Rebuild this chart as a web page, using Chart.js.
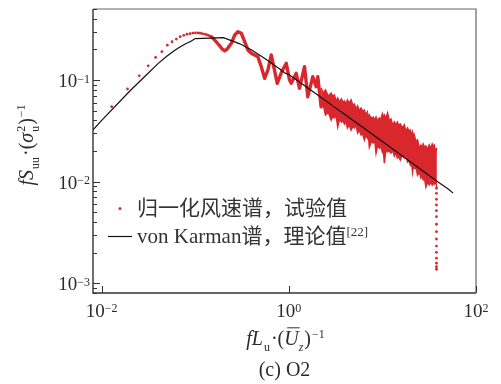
<!DOCTYPE html>
<html>
<head>
<meta charset="utf-8">
<script src="https://cdn.jsdelivr.net/npm/chart.js@4.4.0/dist/chart.umd.min.js"></script>
<style>
  html, body { margin: 0; padding: 0; background: #fff; }
</style>
</head>
<body>
<canvas id="spectrumChart" width="501" height="384"></canvas>
<script>
const SERIF = '"Liberation Serif", "Times New Roman", "Noto Sans CJK SC", serif';
const RED = '#d9272e';
const INK = '#2b2b2b';

// axis ranges and tick labels
const xRange = [0.00808, 100];
const yRange = [0.0008, 0.5];
const xTicks = [0.01, 1, 100];
const xTickPow = ['\u22122', '0', '2'];
const yTicks = [0.001, 0.01, 0.1];
const yTickPow = ['\u22123', '\u22122', '\u22121'];

// 试验值: sparse low-frequency points
const lowX = [0.0128, 0.0189, 0.0252, 0.0314, 0.0377, 0.0440, 0.0503, 0.0565, 0.0628, 0.0690, 0.0754,
              0.0817, 0.0880, 0.0942, 0.1005, 0.1070, 0.1130, 0.1190, 0.1260, 0.1320, 0.1380, 0.1445];
const lowY = [0.0546, 0.0815, 0.110, 0.138, 0.167, 0.190, 0.220, 0.238, 0.253, 0.267, 0.275,
              0.282, 0.286, 0.290, 0.291, 0.291, 0.289, 0.286, 0.283, 0.279, 0.275, 0.270];

// 试验值: oscillating part (points merge into a thick curve)
const waveX = [0.1488, 0.1614, 0.1794, 0.1950, 0.2063, 0.2183, 0.2431, 0.2637, 0.2860, 0.3108, 0.3371,
               0.3655, 0.3972, 0.4309, 0.4672, 0.5078, 0.5508, 0.5972, 0.6492, 0.6955, 0.7521, 0.8360,
               0.9382, 1.0174, 1.0607, 1.1993, 1.3006, 1.4706, 1.5946, 1.8030, 1.9598, 2.0383, 2.2154];
const waveY = [0.2668, 0.2475, 0.2211, 0.2005, 0.1942, 0.2005, 0.2297, 0.2773, 0.2988, 0.2881, 0.2382,
               0.1974, 0.1832, 0.1763, 0.1696, 0.1351, 0.1039, 0.1254, 0.1763, 0.1312, 0.0928, 0.1199,
               0.1460, 0.1000, 0.0928, 0.1164, 0.0829, 0.1351, 0.0685, 0.1078, 0.0859, 0.1078, 0.0546];

// 试验值: dense high-frequency part, upper / lower edge of the red band
const bandX = [2.2154, 2.336, 2.4622, 2.640, 2.8314, 2.948, 3.0702, 3.197, 3.3299, 3.484, 3.6459, 3.783,
               3.9252, 4.073, 4.2255, 4.422, 4.6276, 4.818, 5.0164, 5.223, 5.4387, 5.671, 5.9130, 6.158,
               6.4121, 6.653, 6.9024, 7.074, 7.2505, 7.615, 7.9983, 8.268, 8.5466, 8.900, 9.2683, 9.615,
               9.9747, 10.223, 10.478, 10.910, 11.359, 11.846, 12.353, 12.864, 13.396, 13.895, 14.413,
               14.952, 15.512, 16.297, 17.122, 17.830, 18.568, 19.190, 19.831, 20.402, 20.989, 21.431,
               21.882, 22.785, 23.726, 24.739, 25.794, 26.532, 27.290, 28.208, 29.157, 30.365, 31.623,
               32.810, 34.041, 34.887, 35.754, 36.957, 38.2];
const bandHi = [0.0834, 0.0741, 0.0797, 0.0693, 0.0745, 0.0691, 0.0712, 0.0618, 0.0665, 0.0605, 0.0650,
                0.0602, 0.0621, 0.0578, 0.0636, 0.0591, 0.0636, 0.0563, 0.0580, 0.0516, 0.0555, 0.0493,
                0.0530, 0.0492, 0.0507, 0.0450, 0.0484, 0.0420, 0.0452, 0.0419, 0.0432, 0.0402, 0.0432,
                0.0393, 0.0423, 0.0410, 0.0463, 0.0420, 0.0452, 0.0420, 0.0473, 0.0401, 0.0413, 0.0359,
                0.0386, 0.0359, 0.0386, 0.0358, 0.0369, 0.0336, 0.0361, 0.0313, 0.0337, 0.0312, 0.0322,
                0.0286, 0.0308, 0.0268, 0.0288, 0.0249, 0.0257, 0.0213, 0.0229, 0.0213, 0.0234, 0.0217,
                0.0224, 0.0208, 0.0229, 0.0213, 0.0234, 0.0222, 0.0229, 0.0199, 0.0214];
const bandLo = [0.0530, 0.0567, 0.0452, 0.0484, 0.0404, 0.0436, 0.0423, 0.0453, 0.0345, 0.0413, 0.0386,
                0.0398, 0.0369, 0.0395, 0.0337, 0.0361, 0.0322, 0.0347, 0.0337, 0.0361, 0.0301, 0.0322,
                0.0288, 0.0297, 0.0257, 0.0288, 0.0269, 0.0288, 0.0219, 0.0247, 0.0240, 0.0257, 0.0191,
                0.0229, 0.0214, 0.0220, 0.0196, 0.0210, 0.0152, 0.0210, 0.0196, 0.0202, 0.0191, 0.0204,
                0.0179, 0.0192, 0.0171, 0.0176, 0.0163, 0.0183, 0.0171, 0.0183, 0.0156, 0.0161, 0.0146,
                0.0156, 0.0124, 0.0146, 0.0136, 0.0140, 0.0116, 0.0124, 0.0109, 0.0117, 0.0104, 0.0107,
                0.00885, 0.0099, 0.00926, 0.0099, 0.00926, 0.00975, 0.00947, 0.0101, 0.00865];

// 试验值: last points falling off at the cut-off
const dropX = [37.8, 37.8, 37.8, 37.8, 37.8, 37.8, 37.8, 37.8, 37.8, 37.8, 37.8, 37.8, 37.8, 37.8, 37.8];
const dropY = [0.00859, 0.00767, 0.00669, 0.00588, 0.00517, 0.00451, 0.00380, 0.00321, 0.00272,
               0.00232, 0.00201, 0.00176, 0.00157, 0.00145, 0.00137];

// von Karman谱，理论值
const kmX = [0.008, 0.01, 0.02, 0.03, 0.04, 0.05, 0.06, 0.07, 0.08, 0.09, 0.1, 0.2, 0.3, 0.4, 0.5,
             0.6, 0.7, 0.8, 0.9, 1, 2, 3, 4, 5, 6, 7, 8, 9, 10, 20, 30, 40, 50, 57];
const kmY = [0.032, 0.040, 0.078, 0.112, 0.145, 0.172, 0.195, 0.214, 0.229, 0.241, 0.256, 0.261, 0.227,
             0.197, 0.173, 0.155, 0.140, 0.128, 0.118, 0.113, 0.072, 0.055, 0.0456, 0.0392, 0.0348,
             0.0314, 0.0288, 0.0266, 0.0248, 0.0156, 0.0119, 0.0098, 0.0085, 0.0077];

function pairs(xs, ys) {
    return xs.map((x, i) => ({ x: x, y: ys[i] }));
}

// text with sub/superscripts, laid out left to right
function richLayout(ctx, parts, size, rise, drop) {
    let x = 0;
    const items = parts.map(p => {
        const fs = (p.sub || p.sup) ? (p.fs || Math.round(size * 0.62)) : size;
        const font = (p.it ? 'italic ' : '') + fs + 'px ' + SERIF;
        ctx.font = font;
        const w = ctx.measureText(p.t).width;
        const item = { t: p.t, font: font, x: x + (p.gap || 0), dy: p.sub ? drop : p.sup ? -rise : 0, w: w, bar: p.bar };
        if (!p.stack) x += w + (p.gap || 0);
        return item;
    });
    return { items: items, width: x };
}

function drawRich(ctx, parts, x0, y0, size, rise, drop, align) {
    const lay = richLayout(ctx, parts, size, rise, drop);
    const sx = align === 'center' ? x0 - lay.width / 2 : align === 'right' ? x0 - lay.width : x0;
    lay.items.forEach(it => {
        ctx.font = it.font;
        ctx.fillText(it.t, sx + it.x, y0 + it.dy);
        if (it.bar) {
            ctx.beginPath();
            ctx.lineWidth = 1;
            ctx.moveTo(sx + it.x + 3, y0 - size * 0.86);
            ctx.lineTo(sx + it.x + it.w + 1, y0 - size * 0.86);
            ctx.stroke();
        }
    });
}

const paperAxes = {
    id: 'paperAxes',
    afterDatasetsDraw(chart) {
        const { ctx, chartArea: a, scales } = chart;
        const sx = scales.x, sy = scales.y;
        ctx.save();
        ctx.fillStyle = INK;
        ctx.strokeStyle = INK;
        ctx.textAlign = 'left';
        ctx.textBaseline = 'alphabetic';

        // frame
        ctx.lineWidth = 1.4;
        ctx.strokeStyle = '#333';
        ctx.beginPath();
        ctx.moveTo(a.left, a.top); ctx.lineTo(a.left, a.bottom); ctx.lineTo(a.right, a.bottom);
        ctx.stroke();
        ctx.strokeStyle = '#666';
        ctx.lineWidth = 1.2;
        ctx.beginPath();
        ctx.moveTo(a.left, a.top); ctx.lineTo(a.right, a.top); ctx.lineTo(a.right, a.bottom);
        ctx.stroke();

        // y ticks (inward, with minors)
        ctx.strokeStyle = '#333';
        ctx.lineWidth = 1;
        for (let d = -4; d <= 0; d++) {
            for (let m = 1; m <= 9; m++) {
                const v = m * Math.pow(10, d);
                if (v < yRange[0] * 0.999 || v > yRange[1] * 1.001) continue;
                const py = Math.round(sy.getPixelForValue(v)) + 0.5;
                const len = m === 1 ? 7 : 4;
                ctx.beginPath();
                ctx.moveTo(a.left, py); ctx.lineTo(a.left + len, py);
                ctx.stroke();
            }
        }
        // x ticks
        xTicks.forEach(v => {
            const px = Math.round(sx.getPixelForValue(v)) + 0.5;
            ctx.beginPath();
            ctx.moveTo(px, a.bottom); ctx.lineTo(px, a.bottom - 7);
            ctx.stroke();
        });

        // tick labels
        ctx.fillStyle = INK;
        yTicks.forEach((v, i) => {
            const py = sy.getPixelForValue(v);
            drawRich(ctx, [{ t: '10' }, { t: yTickPow[i], sup: true, fs: 12 }], 90, py + 7, 19, 4.5, 0, 'right');
        });
        xTicks.forEach((v, i) => {
            const px = sx.getPixelForValue(v);
            drawRich(ctx, [{ t: '10' }, { t: xTickPow[i], sup: true, fs: 12 }], px, 317, 19, 5, 0, 'center');
        });

        // x title and caption
        const cx = (a.left + a.right) / 2;
        drawRich(ctx, [
            { t: 'f', it: true }, { t: 'L', it: true }, { t: 'u', sub: true, gap: 1 },
            { t: '\u00b7', gap: 1 }, { t: '(' }, { t: 'U', it: true, bar: true },
            { t: 'z', it: true, sub: true }, { t: ')', gap: 1 }, { t: '\u22121', sup: true, gap: 1 }
        ], cx + 1, 345, 20, 7, 6, 'center');
        drawRich(ctx, [{ t: '(c) O2' }], cx, 376, 20, 0, 0, 'center');

        // y title (rotated)
        ctx.save();
        ctx.translate(33, 145);
        ctx.rotate(-Math.PI / 2);
        drawRich(ctx, [
            { t: 'f', it: true }, { t: 'S', it: true }, { t: 'uu', sub: true, gap: 1 },
            { t: '\u00b7', gap: 1 }, { t: '(' }, { t: '\u03c3', it: true },
            { t: '2', sup: true, stack: true, gap: 1 }, { t: 'u', sub: true, gap: 1 },
            { t: ')', gap: 1 }, { t: '\u22121', sup: true, gap: 1 }
        ], 0, 0, 20, 8, 6, 'center');
        ctx.restore();

        // legend
        ctx.fillStyle = RED;
        ctx.beginPath();
        ctx.arc(120, 208.5, 1.5, 0, Math.PI * 2);
        ctx.fill();
        ctx.strokeStyle = '#111';
        ctx.lineWidth = 1.2;
        ctx.beginPath();
        ctx.moveTo(108, 236.5); ctx.lineTo(132, 236.5);
        ctx.stroke();
        ctx.fillStyle = '#333';
        drawRich(ctx, [{ t: '归一化风速谱，试验值' }], 137, 215, 21, 0, 0, 'left');
        drawRich(ctx, [{ t: 'von Karman谱，理论值' }, { t: '[22]', sup: true, fs: 13 }], 137, 243, 21, 7, 0, 'left');

        ctx.restore();
    }
};

new Chart(document.getElementById('spectrumChart'), {
    type: 'line',
    data: {
        datasets: [
            { label: 'von Karman谱，理论值', data: pairs(kmX, kmY), borderColor: '#111', borderWidth: 1.2,
              pointRadius: 0, tension: 0, fill: false },
            { label: '归一化风速谱，试验值', data: pairs(lowX, lowY), showLine: false, pointRadius: 1.4,
              pointBackgroundColor: RED, pointBorderWidth: 0 },
            { label: 'drop', data: pairs(dropX, dropY), showLine: false, pointRadius: 1.4,
              pointBackgroundColor: RED, pointBorderWidth: 0 },
            { label: 'wave', data: pairs(waveX, waveY), borderColor: RED, borderWidth: 3.4, pointRadius: 0,
              tension: 0, fill: false, borderJoinStyle: 'round', borderCapStyle: 'round' },
            { label: 'bandHi', data: pairs(bandX, bandHi), borderColor: RED, borderWidth: 1.5, pointRadius: 0,
              tension: 0, fill: '+1', backgroundColor: RED },
            { label: 'bandLo', data: pairs(bandX, bandLo), borderColor: RED, borderWidth: 1.5, pointRadius: 0,
              tension: 0, fill: false }
        ]
    },
    options: {
        responsive: false,
        animation: false,
        devicePixelRatio: 1,
        layout: { padding: { left: 93, right: 25, top: 9, bottom: 91 } },
        scales: {
            x: { type: 'logarithmic', min: xRange[0], max: xRange[1], display: false },
            y: { type: 'logarithmic', min: yRange[0], max: yRange[1], display: false }
        },
        plugins: { legend: { display: false }, tooltip: { enabled: false } }
    },
    plugins: [paperAxes]
});
</script>
</body>
</html>
